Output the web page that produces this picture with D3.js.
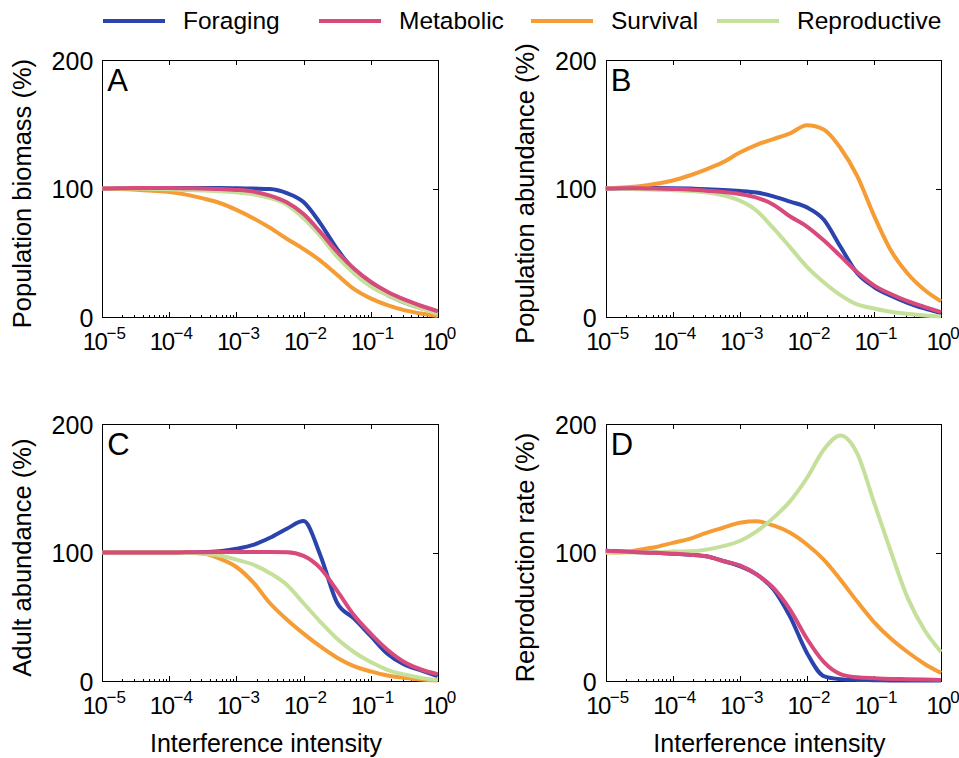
<!DOCTYPE html>
<html>
<head>
<meta charset="utf-8">
<script src="https://cdn.jsdelivr.net/npm/d3@7"></script>
<style>
  body { margin: 0; background: #fff; }
  svg { display: block; font-family: "Liberation Sans", Arial, Helvetica, sans-serif; }
</style>
</head>
<body>
<svg width="959" height="758"></svg>
<script>
// interference intensity, quarter-decade steps from 1e-5 to 1
var intensity = [1e-5, 1.778e-5, 3.162e-5, 5.623e-5, 1e-4, 1.778e-4, 3.162e-4, 5.623e-4,
  1e-3, 1.778e-3, 3.162e-3, 5.623e-3, 1e-2, 1.778e-2, 3.162e-2, 5.623e-2,
  0.1, 0.1778, 0.3162, 0.5623, 1];

var seriesNames = ["Foraging", "Metabolic", "Survival", "Reproductive"];
var seriesColors = ["#2a43ad", "#d74a7b", "#f59c34", "#c4e09b"];
var drawOrder = ["Foraging", "Survival", "Reproductive", "Metabolic"];

var panelLetters = ["A", "B", "C", "D"];
var yTitles = ["Population biomass (%)", "Population abundance (%)", "Adult abundance (%)", "Reproduction rate (%)"];
var xTitle = "Interference intensity";
var yTickValues = [0, 100, 200];
var xTickValues = [1e-5, 1e-4, 1e-3, 1e-2, 1e-1, 1];
var xTickExponents = ["\u22125", "\u22124", "\u22123", "\u22122", "\u22121", "0"];

// A: population biomass
var biomassForaging     = [100,100,100,100.3,100.5,100.5,100.5,100.5,100.3,100,99.7,96.5,89.5,73,53,37,26.5,17.5,11.5,7,4];
var biomassMetabolic    = [100,100.3,100.5,100.5,100.5,100.3,100,99.7,99,97.7,94.5,89.3,80.2,66.3,50.9,37.9,27.7,19.8,13.8,8.9,4.6];
var biomassSurvival     = [100,99.7,99.2,98.4,97.4,95.3,92.4,88.8,83.5,77,69.5,61,53,44,33,22,14.6,9.4,5.5,2.9,1];
var biomassReproductive = [100,100,100,99.7,99.5,99,98.5,98,97.1,95.6,92.7,87.5,77,63.2,47,34.2,24,17.2,11.5,6.8,2.6];

// B: population abundance
var abundForaging     = [100,100.3,100.5,100.5,100.3,100,99.5,99,98.2,96.9,94,89.8,85.4,76,54.8,34.2,23.5,16.7,11.2,6.8,3.1];
var abundMetabolic    = [100,100.3,100.3,100,99.7,99.3,98.4,97.4,95.8,93,87.5,78.3,70.5,59.8,47.5,35,24.8,18,12.5,8.1,3.9];
var abundSurvival     = [100,100.8,101.8,103.7,106.3,110.2,115,120.6,128,134,138.5,143,149.3,146,131.6,109.7,79,52,34,21.4,12.3];
var abundReproductive = [100,100,99.5,99.2,98.7,98.2,97.1,94.8,90.6,82.8,69.2,54.3,39.2,27.2,17.2,9.9,6.8,4.2,2.6,1.3,0.5];

// C: adult abundance
var adultForaging     = [100,100,100,100,100,100,100.2,101,103,106,111.5,118.5,124.5,98,61,48.8,35.2,21.4,13,8.4,3.9];
var adultMetabolic    = [100,100,100,100,100,100.2,100.3,100.4,100.5,100.5,100.5,100.3,97.5,88,70.5,51.4,37,24.5,15,9.1,5.5];
var adultSurvival     = [100,100,100,100,100,100,99.2,95.3,88.8,76.8,60.6,48,37,27,18.3,11.7,7.6,4.4,2.6,1.3,0.5];
var adultReproductive = [100,100,100,100,100,99.7,99.2,97.7,94.5,90.6,84,75,60.6,46.2,33,22.7,14.9,8.9,5.2,2.6,1];

// D: reproduction rate
var reproForaging     = [101.5,100.8,100.2,99.8,99.2,98.4,97.1,93.5,89.5,83,71.5,50,22,4,1.6,1,0.8,0.6,0.5,0.5,0.5];
var reproMetabolic    = [101.5,100.8,100.2,99.8,99.2,98.4,97.1,93.5,90,83,72.5,55.5,33,15,5.5,3,2.3,1.8,1.6,1.3,1];
var reproSurvival     = [100,100.3,102.3,104.4,107.6,110.7,115.4,119.3,123.2,124.3,121.1,115.4,106.3,94.5,78.9,61.9,46,33.2,22.7,13.6,6.3];
var reproReproductive = [100,100,100,100.2,100.8,101,102.3,105,109,116.5,127,140,158,180,191,177,139,101,65,40,22.7];

var panelSeries = [
  [biomassForaging, biomassMetabolic, biomassSurvival, biomassReproductive],
  [abundForaging, abundMetabolic, abundSurvival, abundReproductive],
  [adultForaging, adultMetabolic, adultSurvival, adultReproductive],
  [reproForaging, reproMetabolic, reproSurvival, reproReproductive]
];

var svg = d3.select("svg");

var colX = [102.3, 605.7], rowY = [60, 424],
    plotW = 335.4, plotH = 257.2;

var color = d3.scaleOrdinal().domain(seriesNames).range(seriesColors);

// minor ticks of the log axis
var minorTicks = [];
xTickValues.slice(0, -1).forEach(function(d) {
  for (var k = 2; k <= 9; k++) minorTicks.push(d * k);
});

panelLetters.forEach(function(letter, i) {
  var x0 = colX[i % 2], y0 = rowY[Math.floor(i / 2)];
  var g = svg.append("g").attr("transform", "translate(" + x0 + "," + y0 + ")");

  var x = d3.scaleLog().domain([1e-5, 1]).range([0, plotW]);
  var y = d3.scaleLinear().domain([0, 200]).range([plotH, 0]);

  // box and ticks (inward, matlab style)
  g.append("g").attr("class", "axis")
      .attr("transform", "translate(0," + plotH + ")")
      .call(d3.axisBottom(x).tickValues(xTickValues).tickSize(-5).tickSizeOuter(0).tickFormat(""));
  g.append("g").attr("class", "axis")
      .attr("transform", "translate(0," + plotH + ")")
      .call(d3.axisBottom(x).tickValues(minorTicks).tickSize(-2.5).tickSizeOuter(0).tickFormat(""));
  g.append("g").attr("class", "axis")
      .call(d3.axisTop(x).tickValues(xTickValues).tickSize(-5).tickSizeOuter(0).tickFormat(""));
  g.append("g").attr("class", "axis")
      .call(d3.axisLeft(y).tickValues(yTickValues).tickSize(-5).tickSizeOuter(0).tickFormat(""));
  g.append("g").attr("class", "axis")
      .attr("transform", "translate(" + plotW + ",0)")
      .call(d3.axisRight(y).tickValues(yTickValues).tickSize(-5).tickSizeOuter(0).tickFormat(""));

  g.selectAll(".axis path, .axis line")
      .attr("stroke", "#000").attr("stroke-width", 1).attr("shape-rendering", "crispEdges");

  // y tick labels
  g.selectAll(".ylab").data(yTickValues).enter().append("text")
      .attr("x", -9).attr("y", function(d) { return y(d) + 9.5; })
      .attr("text-anchor", "end").attr("font-size", 25)
      .text(function(d) { return d; });

  // x tick labels 10^n
  g.selectAll(".xlab").data(xTickValues).enter().append("text")
      .attr("x", function(d) { return x(d) + 2; })
      .attr("y", plotH + 33)
      .attr("text-anchor", "middle").attr("font-size", 24)
      .each(function(d, j) {
        var t = d3.select(this);
        t.append("tspan").attr("letter-spacing", -1.5).text("10");
        t.append("tspan").attr("dy", -11).attr("font-size", 17).text(xTickExponents[j]);
      });

  // curves
  var line = d3.line()
      .x(function(d) { return x(d[0]); })
      .y(function(d) { return y(d[1]); })
      .curve(d3.curveMonotoneX);

  drawOrder.forEach(function(name) {
    var vals = panelSeries[i][seriesNames.indexOf(name)];
    g.append("path")
        .datum(intensity.map(function(v, k) { return [v, vals[k]]; }))
        .attr("fill", "none")
        .attr("stroke", color(name))
        .attr("stroke-width", 4)
        .attr("stroke-linejoin", "round")
        .attr("d", line);
  });

  // panel letter
  g.append("text").attr("x", 5).attr("y", 31)
      .attr("font-size", 31).text(letter);

  // y title
  g.append("text")
      .attr("transform", "translate(-71.5," + (plotH / 2 + 5) + ") rotate(-90)")
      .attr("text-anchor", "middle").attr("font-size", 25.5)
      .text(yTitles[i]);

  // x title on bottom row
  if (i >= 2) {
    g.append("text")
        .attr("x", plotW / 2 - 4).attr("y", plotH + 71)
        .attr("text-anchor", "middle").attr("font-size", 25)
        .text(xTitle);
  }
});

// legend
var legendLineX = [103, 319, 531, 717];
var legend = svg.append("g");
seriesNames.forEach(function(name, i) {
  legend.append("line")
      .attr("x1", legendLineX[i]).attr("x2", legendLineX[i] + 62)
      .attr("y1", 21).attr("y2", 21)
      .attr("stroke", color(name)).attr("stroke-width", 4);
  legend.append("text")
      .attr("x", legendLineX[i] + 80).attr("y", 29)
      .attr("font-size", 24.5).text(name);
});
</script>
</body>
</html>
